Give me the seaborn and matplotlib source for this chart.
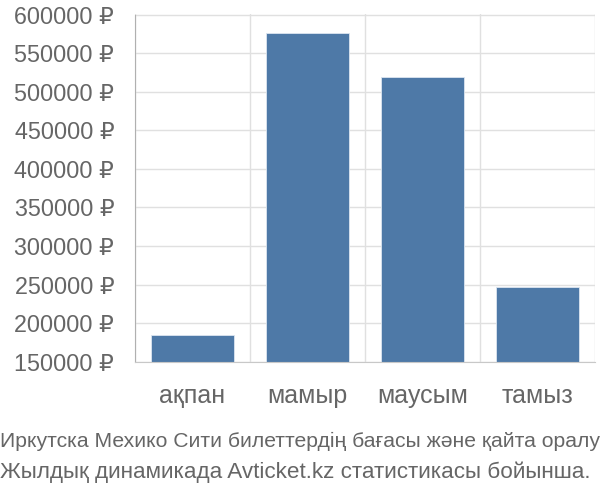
import matplotlib
matplotlib.use("Agg")
from matplotlib import pyplot as plt
import seaborn as sns
import pandas as pd

months = ["ақпан", "мамыр", "маусым", "тамыз"]
prices = [184200, 576000, 518600, 247000]
y_ticks = [150000, 200000, 250000, 300000, 350000, 400000, 450000, 500000, 550000, 600000]
caption = ["Иркутска Мехико Сити билеттердің бағасы және қайта оралу",
           "Жылдық динамикада Avticket.kz статистикасы бойынша."]

sns.set_style("white")
plt.rcParams["font.family"] = ["Liberation Sans", "DejaVu Sans"]

df = pd.DataFrame({"month": months, "price": prices})

fig = plt.figure(figsize=(6, 5), dpi=100)
ax = fig.add_axes([0.225, 0.2766, 0.767, 0.6944])

sns.barplot(data=df, x="month", y="price", color="#4e79a7", saturation=1,
            width=0.72, ax=ax, edgecolor="#dce6f0", linewidth=0.6)

grid_c = "#e0e0e0"
ax.set_ylim(y_ticks[0], y_ticks[-1])
ax.set_xlim(-0.5, len(months) - 0.5)
ax.set_yticks(y_ticks)
ax.set_yticklabels([f"{v} ₽" for v in y_ticks])
ax.set_xticks(range(len(months)))
ax.set_xticks([i - 0.5 for i in range(len(months) + 1)], minor=True)
ax.set_xlabel("")
ax.set_ylabel("")

ax.grid(True, axis="y", color=grid_c, linewidth=1)
ax.grid(True, axis="x", which="minor", color=grid_c, linewidth=1)
ax.set_axisbelow(True)

ax.tick_params(axis="y", length=12, color=grid_c, width=1, pad=3,
               labelsize=16.8, labelcolor="#666666")
ax.tick_params(axis="x", which="major", length=0, pad=16,
               labelsize=18, labelcolor="#666666")
ax.tick_params(axis="x", which="minor", length=13.5, color=grid_c, width=1)

for side in ["top", "right"]:
    ax.spines[side].set_visible(False)
ax.spines["left"].set_color("#b0b0b0")
ax.spines["left"].set_bounds(y_ticks[0], y_ticks[-1])
ax.spines["bottom"].set_color("#c8c8c8")

fig.text(0.0, 0.118, caption[0], fontsize=15.2, color="#666666", va="center")
fig.text(0.0, 0.056, caption[1], fontsize=16.2, color="#666666", va="center")

fig.savefig("out.png", dpi=100)
